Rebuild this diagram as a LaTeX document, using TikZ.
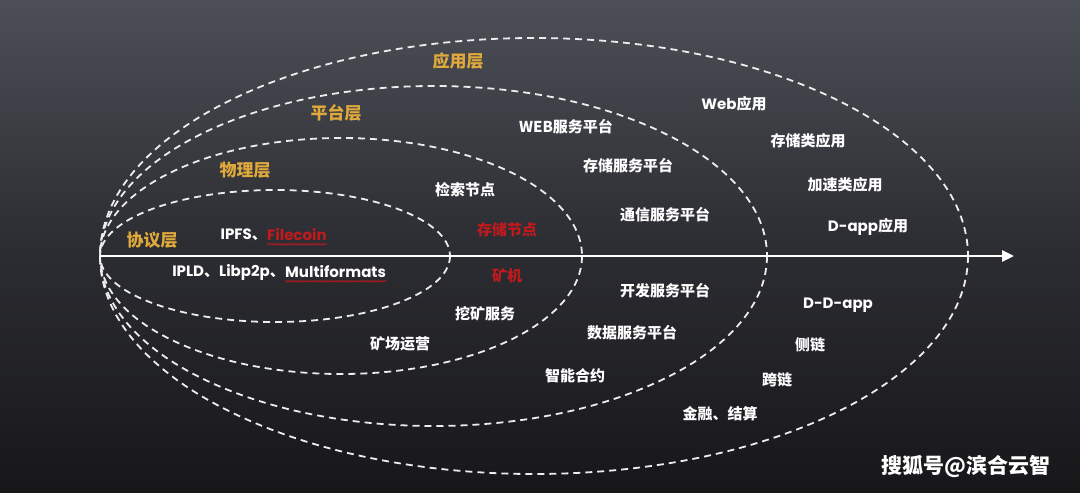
\documentclass[tikz,border=0pt]{standalone}
\usepackage{fontspec}
\setmainfont{Noto Sans CJK SC}
\newfontfamily\lat{Poppins}
\usetikzlibrary{arrows.meta,decorations.pathmorphing}
\definecolor{gold}{HTML}{E0A93C}
\definecolor{redt}{HTML}{C01A1E}
\definecolor{bgtop}{HTML}{4C4F57}
\definecolor{bgmid}{HTML}{2C2D32}
\definecolor{bgbot}{HTML}{17171A}
\definecolor{dashc}{HTML}{EDEDED}
\tikzset{
  layer/.style={draw=dashc, line width=1.8pt, dash pattern=on 7pt off 5pt},
  lbl/.style={text=white, font=\bfseries\fontsize{15}{17}\selectfont, inner sep=0pt},
  layerlbl/.style={text=gold, font=\bfseries\fontsize{17}{19}\selectfont, inner sep=0pt},
  redlbl/.style={lbl, text=redt},
  wavy/.style={draw=redt, line width=0.7pt, decorate, decoration={snake, amplitude=0.8pt, segment length=3pt}},
  axis/.style={draw=white, line width=2.8pt, -{Triangle[length=12pt,width=11pt]}},
  wmark/.style={text=white, font=\bfseries\fontsize{21}{23}\selectfont, inner sep=0pt},
}
\begin{document}
\begin{tikzpicture}[x=1pt,y=-1pt]
  \useasboundingbox (0,0) rectangle (1080,493);
  \shade[top color=bgtop, bottom color=bgbot, middle color=bgmid] (0,0) rectangle (1080,493);

  % layer ellipses
  \draw[layer] (534,256) ellipse [x radius=434, y radius=218];
  \draw[layer] (433.5,256) ellipse [x radius=333.5, y radius=170];
  \draw[layer] (341,256) ellipse [x radius=241, y radius=118];
  \draw[layer] (275,256) ellipse [x radius=175, y radius=66];

  % axis
  \coordinate (origin) at (100,256);
  \coordinate (tip) at (1014,256);
  \draw[axis] (origin) -- (tip);

  % layer labels
  \node[layerlbl] (app) at (458,61) {应用层};
  \node[layerlbl] (plat) at (336,113) {平台层};
  \node[layerlbl] (phys) at (245,170) {物理层};
  \node[layerlbl] (proto) at (152,240) {协议层};

  % protocol layer
  \node[lbl, anchor=east] (ipfs) at (267,235) {{\lat IPFS}、};
  \node[redlbl, anchor=west, font=\bfseries\lat\fontsize{15}{17}\selectfont] (filecoin) at (267,235) {Filecoin};
  \draw[wavy] ([yshift=-3pt]filecoin.south west) -- ([yshift=-3pt]filecoin.south east);
  \node[lbl, anchor=east] (ipld) at (285,272) {{\lat IPLD}、{\lat Libp2p}、};
  \node[lbl, anchor=west, font=\bfseries\lat\fontsize{15}{17}\selectfont] (multi) at (285,272) {Multiformats};
  \draw[wavy] ([yshift=-3pt]multi.south west) -- ([yshift=-3pt]multi.south east);

  % physical layer
  \node[lbl] (retr) at (465,190) {检索节点};
  \node[redlbl] (stor) at (507,230) {存储节点};
  \node[redlbl] (miner) at (507,276) {矿机};
  \node[lbl] (minsvc) at (485,314) {挖矿服务};
  \node[lbl] (farm) at (400,344) {矿场运营};

  % platform layer
  \node[lbl] (webp) at (566,127) {WEB服务平台};
  \node[lbl] (storp) at (628,166) {存储服务平台};
  \node[lbl] (commp) at (665,215) {通信服务平台};
  \node[lbl] (devp) at (665,291) {开发服务平台};
  \node[lbl] (datap) at (632,333) {数据服务平台};
  \node[lbl] (smart) at (575,376) {智能合约};

  % application layer
  \node[lbl] (weba) at (734,104) {{\lat Web}应用};
  \node[lbl] (stora) at (808,141) {存储类应用};
  \node[lbl] (acca) at (845,185) {加速类应用};
  \node[lbl] (dapp) at (868,227) {{\lat D-app}应用};
  \node[lbl] (ddapp) at (838,305) {\lat D-D-app};
  \node[lbl] (side) at (810,345) {侧链};
  \node[lbl] (cross) at (777,380) {跨链};
  \node[lbl] (fin) at (720,414) {金融、结算};

  % watermark
  \node[wmark] (wm) at (966,467) {搜狐号@滨合云智};
\end{tikzpicture}
\end{document}
